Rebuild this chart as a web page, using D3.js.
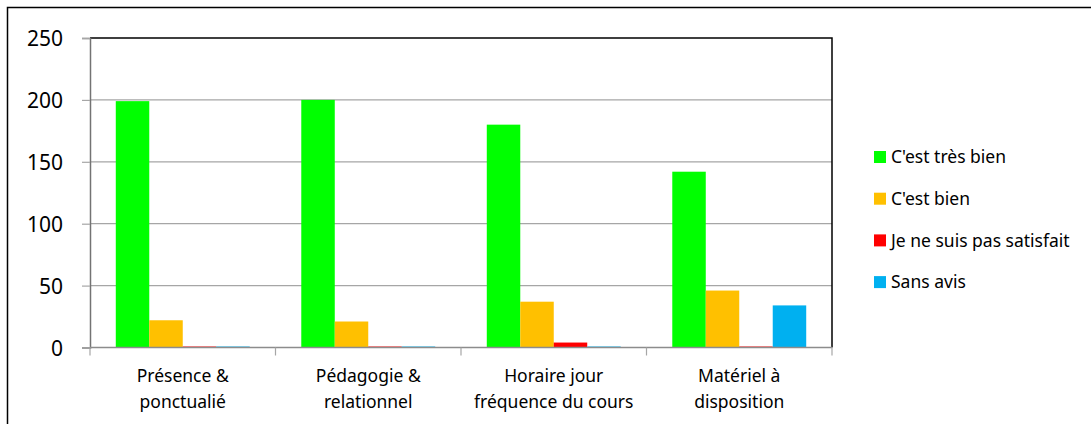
<!DOCTYPE html>
<html><head><meta charset="utf-8">
<script src="https://cdn.jsdelivr.net/npm/d3@7"></script>
<style>body{margin:0;background:#fff}svg{display:block}text{font-family:"Noto Sans","Liberation Sans",Arial,sans-serif;fill:#000}</style>
</head><body><svg id="c" width="1091" height="424"></svg>
<script>
const categories = [["Présence &","ponctualié"],["Pédagogie &","relationnel"],["Horaire jour","fréquence du cours"],["Matériel à","disposition"]];
const seriesNames = ["C'est très bien","C'est bien","Je ne suis pas satisfait","Sans avis"];
const seriesColors = ["#00ff00","#ffc000","#ff0000","#00b0f0"];
const tresBien = [199, 200, 180, 142];
const bien = [22, 21, 37, 46];
const pasSatisfait = [0, 0, 4, 0];
const sansAvis = [0, 0, 0, 34];
const yTicks = [0, 50, 100, 150, 200, 250];

const series = [tresBien, bien, pasSatisfait, sansAvis];
const svg = d3.select("#c");
svg.append("rect").attr("x",7.5).attr("y",7.5).attr("width",1200).attr("height",500)
  .attr("fill","none").attr("stroke","#000").attr("stroke-width",1.5);

const L=90, R=832, T=38, B=347.5;
const x = d3.scaleBand().domain(d3.range(categories.length)).range([L,R]);
const inner = d3.scaleBand().domain(d3.range(series.length)).range([0,x.bandwidth()]).paddingOuter(0.77).paddingInner(0);
const y = d3.scaleLinear().domain([0,250]).range([B,T]);

// gridlines
svg.append("g").selectAll("line").data(yTicks.filter(d=>d>0&&d<250)).join("line")
  .attr("x1",L).attr("x2",R).attr("y1",d=>y(d)).attr("y2",d=>y(d))
  .attr("stroke","#a6a6a6").attr("stroke-width",1.2);
// plot border top/right
svg.append("path").attr("d",`M${L},${T}H${R}V${B}`).attr("fill","none").attr("stroke","#000").attr("stroke-width",1.5);

// bars
series.forEach((s,si)=>{
  svg.append("g").selectAll("rect").data(s).join("rect")
    .attr("x",(d,i)=>x(i)+inner(si))
    .attr("width",inner.bandwidth())
    .attr("y",d=>Math.min(y(d), B-1))
    .attr("height",d=>Math.max(B-y(d),1))
    .attr("fill",seriesColors[si]);
});

// y axis
const ya = svg.append("g").attr("transform",`translate(${L},0)`)
  .call(d3.axisLeft(y).tickValues(yTicks).tickSize(8).tickPadding(19));
ya.select(".domain").attr("stroke","#737373").attr("stroke-width",1.5);
ya.selectAll(".tick line").attr("stroke","#a6a6a6").attr("stroke-width",1.2);
ya.selectAll(".tick text").style("font-size","21px").attr("dy","0.36em");

// x axis
const xa = svg.append("g").attr("transform",`translate(0,${B})`);
xa.append("line").attr("x1",L).attr("x2",R).attr("stroke","#8c8c8c").attr("stroke-width",1.5);
xa.selectAll(".tk").data(d3.range(categories.length+1)).join("line")
  .attr("x1",i=>i<categories.length?x(i):R).attr("x2",i=>i<categories.length?x(i):R)
  .attr("y1",0).attr("y2",8).attr("stroke","#a6a6a6").attr("stroke-width",1.2);
const lab = svg.append("g").selectAll("text").data(categories).join("text")
  .attr("text-anchor","middle").style("font-size","17.5px");
lab.each(function(d,i){
  const t=d3.select(this);
  d.forEach((line,k)=>t.append("tspan").attr("x",x(i)+x.bandwidth()/2).attr("y",382+k*26).text(line));
});

// legend
const lg = svg.append("g").selectAll("g").data(seriesNames).join("g")
  .attr("transform",(d,i)=>`translate(874,${157+i*41.7})`);
lg.append("rect").attr("x",0).attr("y",-6).attr("width",12).attr("height",12).attr("fill",(d,i)=>seriesColors[i]);
lg.append("text").attr("x",17).attr("y",0).attr("dy","0.36em").style("font-size","17.5px").text(d=>d);
</script></body></html>
